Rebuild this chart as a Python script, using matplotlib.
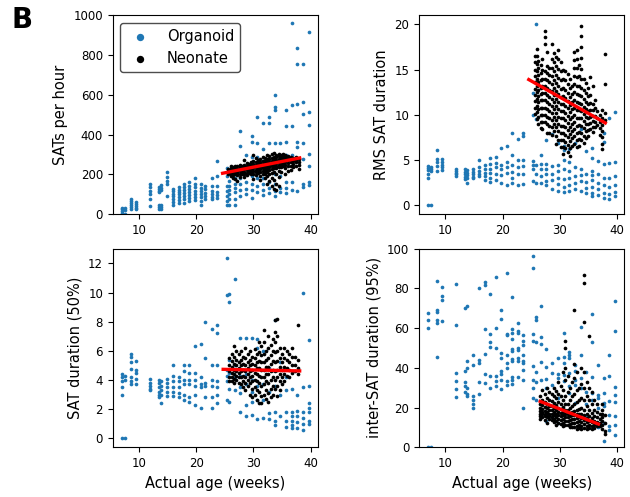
import numpy as np
import matplotlib
matplotlib.use("Agg")
import matplotlib.pyplot as plt

# organoid recordings, grouped by age column (weeks)
ORG_AGES = [7.0, 7.5, 8.6, 9.4, 11.8, 13.4, 13.8, 14.8, 15.9, 16.9, 17.8, 18.8,
            19.8, 20.8, 21.6, 22.7, 23.6, 25.3, 25.8, 26.8, 27.7, 28.7, 29.7,
            30.7, 31.6, 32.7, 33.7, 34.7, 35.7, 36.7, 37.7, 38.7, 39.7]

ORG_RATE = [
    [30, 25, 15, 5], [30, 20, 0], [75, 65, 55, 45, 35, 25], [60, 50, 40, 30, 25],
    [150, 135, 115, 100, 75, 40], [135, 125, 115, 110, 45, 35, 25],
    [145, 130, 120, 45, 35, 25], [210, 185, 165, 150, 90],
    [125, 115, 100, 90, 75, 60, 45], [135, 120, 110, 100, 85, 70, 55],
    [150, 135, 120, 105, 90, 75, 55], [160, 140, 125, 110, 95, 80, 65],
    [180, 150, 135, 115, 100, 85, 70], [150, 130, 115, 100, 85, 65, 45],
    [140, 125, 105, 90, 75], [180, 140, 115, 100, 85, 75],
    [270, 190, 140, 110, 95, 80], [230, 190, 140, 115, 90, 65, 45],
    [165, 140, 120, 100, 75, 45], [180, 150, 130, 110, 75, 45],
    [420, 345, 230, 180, 150, 120, 90], [300, 240, 200, 160, 125, 100],
    [395, 365, 290, 190, 150, 120, 80], [490, 360, 290, 240, 180, 140, 110],
    [460, 330, 270, 180, 150, 120, 95], [490, 460, 360, 250, 160, 130, 105],
    [600, 540, 525, 360, 200, 150, 115, 90], [360, 280, 190, 130, 110],
    [525, 445, 365, 300, 160, 130, 105], [960, 550, 445, 300, 160, 120],
    [835, 755, 555, 365, 340, 115], [755, 565, 505, 360, 280, 150, 135],
    [915, 515, 450, 305, 240, 160, 145],
]

ORG_RMS = [
    [4.3, 4.1, 3.9, 3.5, 3.0, 0.0], [4.2, 4.0, 3.8, 0.0], [6.1, 5.1, 4.8, 4.3, 3.8],
    [5.1, 4.8, 4.5, 4.2, 3.9], [4.0, 3.8, 3.6, 3.4, 3.2], [4.0, 3.7, 3.4, 3.1, 2.9],
    [3.9, 3.6, 3.3, 3.0, 2.5], [4.0, 3.7, 3.4, 3.1, 3.0], [5.0, 4.2, 3.8, 3.5, 3.2],
    [4.5, 4.0, 3.6, 3.2, 2.8], [5.2, 4.6, 4.0, 3.6, 3.0, 2.6], [5.3, 4.7, 4.2, 3.5, 2.8],
    [6.3, 4.5, 4.0, 3.3, 2.4], [6.6, 4.8, 4.2, 3.6, 2.2], [8.0, 5.5, 4.5, 3.7, 3.0, 2.5],
    [7.3, 5.0, 4.2, 3.5, 2.2], [8.0, 7.7, 5.0, 4.3, 3.5, 2.3],
    [12.4, 10.0, 4.9, 4.4, 4.0, 2.7], [20.0, 9.5, 4.5, 3.5, 2.5],
    [5.5, 4.6, 4.0, 3.2, 2.4], [7.2, 4.6, 4.0, 3.5, 2.7, 2.2], [7.9, 4.3, 3.5, 2.8, 1.8],
    [6.9, 4.5, 3.8, 3.0, 2.3, 1.6], [6.6, 6.1, 5.0, 4.0, 2.9, 2.0, 1.5],
    [6.2, 4.8, 3.8, 3.0, 2.2, 1.6], [6.9, 4.2, 3.2, 2.5, 1.8], [8.4, 4.0, 3.3, 2.7, 1.6],
    [6.0, 3.5, 2.6, 1.9, 1.3], [6.3, 5.2, 3.8, 3.3, 2.8, 2.0, 1.3, 1.0],
    [4.9, 3.5, 2.5, 1.8, 1.1], [8.0, 7.0, 4.6, 3.0, 2.2, 1.4, 0.8],
    [9.6, 4.7, 3.0, 2.0, 1.2, 0.7], [10.3, 4.8, 3.2, 2.2, 1.5, 1.0],
]

ORG_MED = [
    [4.4, 4.2, 3.9, 3.5, 3.0, 0.0], [4.3, 4.0, 0.0], [5.8, 5.6, 5.2, 4.75, 4.2, 3.9, 3.7],
    [5.3, 4.7, 4.5, 4.1, 3.75], [4.05, 3.8, 3.6, 3.4, 3.3], [4.0, 3.8, 3.5, 3.2, 3.0, 2.8],
    [3.9, 3.6, 3.3, 3.0, 2.4], [4.1, 3.8, 3.5, 3.2, 2.9], [5.0, 4.3, 3.9, 3.5, 3.2, 2.9],
    [4.2, 3.9, 3.5, 3.1, 2.8], [5.0, 4.6, 4.0, 3.7, 3.0, 2.6], [5.0, 4.5, 4.0, 3.7, 2.8, 2.5],
    [6.3, 4.5, 4.0, 3.6, 3.0, 2.3], [6.5, 4.2, 3.7, 3.5, 2.1], [8.0, 5.5, 3.8, 3.6, 2.8],
    [7.5, 5.0, 4.0, 3.6, 2.8, 2.1], [7.8, 7.25, 5.0, 3.9, 3.5, 3.0, 2.4],
    [12.4, 9.8, 4.7, 4.3, 3.9, 2.6], [9.9, 9.35, 5.4, 4.5, 3.4, 2.5], [10.9, 5.0, 4.2, 3.3],
    [6.85, 4.3, 3.5, 3.1, 1.8], [6.85, 4.4, 3.7, 2.3, 1.5], [6.85, 4.0, 3.2, 2.5, 1.6],
    [6.8, 6.2, 3.6, 2.6, 1.3], [6.0, 3.7, 2.6, 1.4], [4.8, 3.2, 1.7, 1.3],
    [8.1, 3.6, 1.8, 1.2, 0.9], [5.2, 3.0, 1.5], [4.2, 3.3, 1.8, 1.2, 0.8],
    [3.4, 1.8, 1.5, 1.2, 0.9, 0.7], [3.0, 1.9, 1.5, 1.1, 0.7],
    [9.95, 3.5, 1.8, 1.4, 1.0, 0.6], [6.75, 3.6, 2.4, 2.1, 1.8, 1.2, 1.0],
]

ORG_GAP = [
    [67.5, 64.2, 60.0, 0.0], [0.0], [83.5, 69.0, 68.0, 64.0, 62.5, 45.5],
    [80.4, 76.2, 74.2, 63.7], [82.0, 61.3, 37.5, 33.6, 29.4, 25.4],
    [70.0, 38.5, 33.0, 31.0, 28.0], [71.0, 43.5, 40.0, 30.0, 27.0, 26.0],
    [46.3, 41.3, 26.0, 24.0, 22.0, 20.0], [80.0, 44.0, 42.2, 32.8, 27.0],
    [83.4, 81.5, 59.3, 47.0, 37.0, 32.4], [77.0, 57.0, 53.2, 50.5, 35.8, 29.6],
    [85.9, 60.0, 50.0, 36.0, 33.6, 31.0], [69.0, 64.5, 47.5, 45.0, 38.4, 36.7, 33.7, 29.2],
    [87.6, 57.2, 56.5, 46.2, 42.5, 40.0, 33.4, 31.5],
    [75.5, 59.5, 57.7, 54.5, 49.5, 48.5, 44.5, 43.5, 35.5, 33.8, 31.8],
    [62.3, 58.5, 57.3, 50.2, 49.0, 45.0, 43.5, 35.5],
    [56.3, 53.3, 51.3, 46.3, 43.6, 42.5, 38.7, 33.7, 19.6],
    [96.0, 90.2, 57.0, 53.3, 40.7, 34.0, 29.7, 24.7], [65.5, 64.0, 53.0, 38.0, 33.0, 24.0],
    [71.1, 55.5, 52.2, 43.0, 33.7], [49.3, 40.5, 34.6, 30.0, 13.0], [42.2, 37.3, 31.3, 15.0],
    [44.7, 36.7, 34.7, 24.7, 12.0], [57.3, 45.5, 42.2, 36.3, 33.3],
    [47.7, 46.3, 44.7, 37.3, 30.6, 27.3], [41.3, 38.3, 33.9, 31.4, 22.2],
    [60.3, 46.4, 34.7, 29.7], [38.0, 28.0, 22.0, 15.0], [67.0, 53.1, 35.6, 27.2, 23.9],
    [41.6, 26.4, 24.7, 20.0, 10.0], [35.0, 27.3, 22.3, 20.6, 12.2, 3.4],
    [46.3, 35.8, 23.1, 16.4, 10.6, 8.9], [73.4, 58.4, 30.2, 26.5, 22.8, 15.6, 11.4, 6.4],
]

# neonate recordings, grouped by age column (weeks)
NEO_AGES_RATE = [25.6, 26.0, 26.4, 26.8, 27.2, 27.6, 28.0, 28.4, 28.8, 29.2, 29.6,
                 30.0, 30.4, 30.8, 31.2, 31.6, 32.0, 32.4, 32.8, 33.2, 33.6, 34.0,
                 34.4, 34.8, 35.2, 35.6, 36.0, 36.5, 37.0, 37.5, 38.0]
NEO_RATE = [
    [225, 215, 205, 200], [240, 230, 220, 210, 200, 190], [235, 225, 215, 205, 195, 180],
    [245, 230, 220, 210, 200, 175], [240, 228, 218, 208, 195, 165],
    [250, 235, 225, 215, 200, 185], [245, 235, 225, 212, 200],
    [275, 250, 238, 226, 214, 200, 185], [260, 245, 232, 220, 208, 195],
    [255, 242, 230, 218, 205], [265, 250, 238, 225, 212, 200],
    [300, 270, 255, 242, 230, 215, 200, 175], [285, 262, 248, 235, 222, 210, 195],
    [275, 260, 245, 232, 220, 205], [280, 265, 252, 238, 225, 210, 190, 170],
    [290, 270, 255, 242, 230, 215, 200], [285, 270, 258, 245, 232, 218, 200, 180],
    [300, 280, 265, 250, 238, 225, 210, 190, 150], [295, 278, 262, 250, 236, 220, 200, 165],
    [305, 285, 270, 255, 240, 225, 205, 180, 140], [310, 290, 275, 260, 245, 230, 210, 170, 125],
    [300, 288, 272, 258, 245, 230, 200, 150, 120], [305, 292, 280, 265, 250, 235, 215, 185, 140],
    [300, 290, 278, 265, 250, 235, 210], [305, 295, 282, 270, 255, 240],
    [300, 290, 280, 265, 250, 230, 200], [295, 285, 272, 258, 240, 215],
    [290, 278, 262, 245, 220], [285, 270, 255, 235], [290, 275, 262, 245],
    [280, 265, 250, 225],
]

NEO_AGES_RMS = [25.7, 26.0, 26.3, 26.7, 27.0, 27.4, 27.8, 28.2, 28.6, 29.0, 29.4,
                29.8, 30.2, 30.6, 31.0, 31.4, 31.8, 32.2, 32.6, 33.0, 33.4, 33.8,
                34.2, 34.6, 35.0, 35.4, 35.8, 36.2, 36.6, 37.0, 37.5, 37.9]
NEO_RMS = [
    [16.5, 15.8, 15.0, 14.3, 13.6, 12.9, 12.2, 11.5, 10.8, 10.1],
    [17.3, 16.5, 15.6, 14.8, 14.0, 13.2, 12.5, 11.8, 11.0, 10.3, 9.5],
    [16.0, 15.2, 14.4, 13.6, 12.8, 12.1, 11.4, 10.6, 9.8, 9.0],
    [15.5, 14.6, 13.8, 13.0, 12.3, 11.6, 10.8, 10.0, 9.2, 8.5],
    [16.2, 15.0, 14.0, 13.2, 12.4, 11.6, 10.8, 10.0, 9.2, 8.4],
    [19.3, 18.6, 17.8, 14.8, 14.0, 13.2, 12.4, 11.6, 10.8, 10.0, 9.2],
    [17.0, 15.4, 14.6, 13.8, 13.0, 12.2, 11.4, 10.6, 9.8, 9.0, 8.0],
    [15.2, 14.4, 13.6, 12.8, 12.0, 11.2, 10.4, 9.6, 8.8, 8.0],
    [17.8, 16.2, 15.2, 14.3, 13.4, 12.6, 11.8, 11.0, 10.2, 9.4, 8.6, 7.8],
    [16.8, 15.8, 14.8, 13.9, 13.0, 12.2, 11.4, 10.6, 9.8, 9.0, 8.2],
    [16.4, 15.4, 14.4, 13.5, 12.6, 11.8, 11.0, 10.2, 9.4, 8.6, 7.6, 6.8],
    [17.2, 16.2, 15.1, 14.1, 13.2, 12.3, 11.4, 10.6, 9.8, 9.0, 8.2, 7.2],
    [15.8, 14.8, 13.8, 12.9, 12.0, 11.2, 10.4, 9.6, 8.8, 8.0, 7.2, 6.4],
    [15.0, 14.0, 13.0, 12.1, 11.2, 10.4, 9.6, 8.8, 8.0, 7.2, 6.4, 5.7],
    [14.8, 13.8, 12.8, 11.9, 11.0, 10.2, 9.4, 8.6, 7.8, 7.0, 6.3],
    [14.5, 13.4, 12.4, 11.5, 10.7, 9.9, 9.1, 8.3, 7.5, 6.7, 5.9],
    [14.0, 13.0, 12.0, 11.1, 10.3, 9.5, 8.7, 7.9, 7.1, 6.3, 5.4],
    [13.2, 12.3, 11.4, 10.6, 9.8, 9.0, 8.2, 7.4, 6.6],
    [17.0, 16.1, 15.2, 14.3, 13.4, 12.5, 11.6, 10.8, 10.0, 9.2, 8.4, 7.6, 6.8],
    [17.2, 16.2, 15.2, 14.2, 13.2, 12.3, 11.4, 10.5, 9.6, 8.8, 8.0, 7.2, 6.4],
    [15.5, 14.3, 13.2, 12.2, 11.3, 10.5, 9.7, 8.9, 8.1, 7.3, 6.5],
    [19.8, 18.7, 17.5, 16.3, 15.1, 14.0, 13.0, 12.1, 11.2, 10.4, 9.6, 8.8, 8.0, 7.2],
    [14.0, 12.8, 11.8, 10.9, 10.1, 9.3, 8.5, 7.7, 6.9],
    [13.5, 12.4, 11.4, 10.6, 9.8, 9.0, 8.2, 7.4],
    [13.0, 12.1, 11.2, 10.4, 9.7, 9.0, 8.3, 7.6],
    [14.2, 12.2, 11.3, 10.5, 9.8, 9.1, 8.4],
    [13.2, 11.2, 10.5, 9.9, 9.3, 8.7, 8.1],
    [11.6, 10.7, 9.9, 9.2, 8.6], [10.4, 9.6, 8.9], [10.0, 9.2, 8.5, 7.8],
    [10.5, 9.7, 8.9, 8.2, 7.5, 6.8, 6.2], [16.7, 13.4, 10.2, 9.4],
]

NEO_AGES_MED = [25.8, 26.2, 26.6, 27.0, 27.4, 27.8, 28.2, 28.6, 29.0, 29.4, 29.8,
                30.2, 30.6, 31.0, 31.4, 31.8, 32.2, 32.6, 33.0, 33.4, 33.8, 34.2,
                34.6, 35.0, 35.4, 35.8, 36.3, 36.8, 37.3, 37.8]
NEO_MED = [
    [5.5, 5.0, 4.6, 4.2, 3.9], [5.8, 5.3, 4.9, 4.5, 4.2, 3.9],
    [6.3, 5.6, 5.1, 4.7, 4.4, 4.1, 3.8], [6.0, 5.4, 5.0, 4.6, 4.3, 4.0],
    [5.8, 5.2, 4.8, 4.5, 4.2, 3.8], [6.0, 5.4, 5.0, 4.6, 4.2, 3.7],
    [5.6, 5.1, 4.7, 4.3, 3.9, 3.5], [6.2, 5.5, 5.0, 4.6, 4.2, 3.8, 3.3],
    [5.8, 5.2, 4.8, 4.4, 4.0, 3.6], [6.0, 5.4, 5.0, 4.6, 4.2, 3.8, 3.0],
    [5.6, 5.1, 4.7, 4.3, 3.9, 3.4, 2.8], [6.1, 5.5, 5.0, 4.5, 4.0, 3.5, 3.0],
    [5.8, 5.2, 4.8, 4.4, 3.9, 3.3, 2.6], [6.6, 5.9, 5.3, 4.8, 4.3, 3.8, 3.2, 2.4],
    [6.3, 5.7, 5.2, 4.7, 4.2, 3.6, 2.9, 2.4], [7.4, 6.6, 5.8, 5.2, 4.7, 4.2, 3.7, 3.0],
    [6.0, 5.4, 4.9, 4.4, 3.9, 3.3, 2.7], [7.0, 6.2, 5.5, 4.9, 4.4, 3.8, 3.1, 2.5],
    [6.4, 5.7, 5.1, 4.6, 4.0, 3.4, 2.8], [6.8, 6.0, 5.3, 4.7, 4.2, 3.6, 3.0],
    [8.1, 7.3, 6.6, 5.9, 5.2, 4.6, 4.0, 3.4], [8.2, 7.0, 6.0, 5.3, 4.7, 4.2, 3.6, 2.9],
    [6.2, 5.5, 4.9, 4.4, 3.9, 3.3], [5.8, 5.2, 4.7, 4.2, 3.7],
    [6.2, 5.5, 4.9, 4.4, 3.9], [6.0, 5.4, 4.8, 4.3], [5.8, 5.2, 4.7, 4.2],
    [6.2, 5.6, 5.0, 4.5], [5.6, 5.0, 4.6], [7.8, 5.4, 4.8, 4.4],
]

NEO_AGES_GAP = [26.6, 27.0, 27.4, 27.8, 28.2, 28.6, 29.0, 29.4, 29.8, 30.2, 30.6,
                31.0, 31.4, 31.8, 32.2, 32.6, 33.0, 33.4, 33.8, 34.3, 34.8, 35.2,
                35.6, 36.0, 36.5, 37.0, 37.5, 37.9]
NEO_GAP = [
    [26, 22, 20, 18.5, 17, 15.5, 14], [29, 24, 21.5, 19.5, 18, 16.5, 15],
    [27, 23, 20.5, 18.5, 17, 15.5, 13.5], [30, 25, 22, 20, 18, 16.5, 15, 12],
    [28, 24, 21, 19, 17, 15.5, 14], [27, 23.5, 21, 19, 17, 15, 13.5],
    [30, 26, 22.5, 20, 18, 16, 14, 12.5], [28.5, 25, 21.5, 19, 17, 15, 13, 11],
    [33, 27, 23, 20, 18, 16, 14, 12], [31, 26, 22, 19.5, 17.5, 15.5, 13.5, 11.5],
    [38, 29, 24, 20.5, 18, 16, 14, 12, 10.5],
    [53.5, 50, 40, 34, 26, 22, 19, 17, 15, 13, 11],
    [36, 28, 22, 19, 17, 15, 13, 11], [30, 24, 20, 17.5, 15.5, 13.5, 11.5, 10],
    [33, 26, 21, 18, 16, 14, 12, 10], [69, 42, 35, 27, 22, 18.5, 16, 14, 12, 10],
    [38, 29, 23, 19, 16.5, 14.5, 12.5, 10.5, 9], [30, 24, 19.5, 17, 15, 13, 11, 9.5],
    [40, 32, 25, 20, 17, 14.5, 12.5, 10.5, 9],
    [86.5, 82.5, 63, 38, 30, 24, 19, 16, 13.5, 11.5, 9.5],
    [33, 26, 21, 17, 14.5, 12.5, 10.5, 9], [56, 30, 24, 19, 15.5, 13, 11, 9.5],
    [28, 22, 17.5, 14.5, 12.5, 10.5, 9], [24, 19, 15.5, 13, 11, 9.5],
    [22, 18, 15, 12.5, 10.5], [17, 14, 12, 10.5], [22, 19, 17, 15, 13, 11, 9],
    [16, 12, 8, 6.5],
]

# linear fits to the neonate data (age range, fitted values at the ends)
FIT_RATE = ([24.6, 38.1], [206, 283])
FIT_RMS = ([24.6, 38.0], [13.9, 9.1])
FIT_MED = ([24.7, 38.1], [4.73, 4.62])
FIT_GAP = ([26.6, 36.8], [23.1, 11.7])

BLUE = '#1f77b4'


def flatten(ages, groups):
    xs = [a for a, g in zip(ages, groups) for _ in g]
    ys = [v for g in groups for v in g]
    return xs, ys


fig = plt.figure(figsize=(6.3, 4.97), dpi=100)

panels = [
    ([0.179, 0.569, 0.326, 0.400], ORG_RATE, NEO_AGES_RATE, NEO_RATE, FIT_RATE,
     'SATs per hour', (0, 1000), False),
    ([0.665, 0.569, 0.326, 0.400], ORG_RMS, NEO_AGES_RMS, NEO_RMS, FIT_RMS,
     'RMS SAT duration', None, False),
    ([0.179, 0.100, 0.326, 0.400], ORG_MED, NEO_AGES_MED, NEO_MED, FIT_MED,
     'SAT duration (50%)', None, True),
    ([0.665, 0.100, 0.326, 0.400], ORG_GAP, NEO_AGES_GAP, NEO_GAP, FIT_GAP,
     'inter-SAT duration (95%)', (0, 100), True),
]

for i, (pos, org, neo_ages, neo, fit, ylab, ylim, show_x) in enumerate(panels):
    ax = fig.add_axes(pos)
    ox, oy = flatten(ORG_AGES, org)
    nx, ny = flatten(neo_ages, neo)
    ax.scatter(ox, oy, s=7, color=BLUE, linewidths=0, zorder=2, label='Organoid')
    ax.scatter(nx, ny, s=7, color='black', linewidths=0, zorder=3, label='Neonate')
    ax.plot(fit[0], fit[1], color='red', lw=2.4, zorder=4)
    if ylim is not None:
        ax.set_ylim(*ylim)
    ax.set_xticks([10, 20, 30, 40])
    ax.tick_params(labelsize=8.5)
    ax.set_ylabel(ylab, fontsize=10.5)
    if show_x:
        ax.set_xlabel('Actual age (weeks)', fontsize=10.5)
    if i == 0:
        leg = ax.legend(loc='upper left', fontsize=10.5, markerscale=2.0,
                        scatterpoints=1, fancybox=True, framealpha=1)
        leg.get_frame().set_edgecolor('0.3')

fig.text(0.019, 0.944, 'B', fontsize=20, fontweight='bold')

fig.savefig('out.png', dpi=100)
